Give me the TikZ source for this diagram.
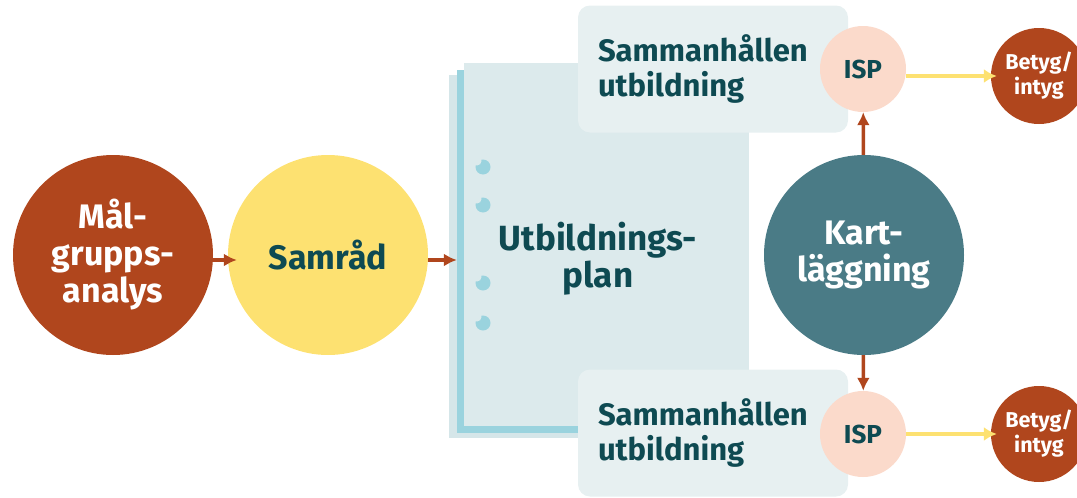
\documentclass[tikz,border=0pt]{standalone}
\usepackage{fontspec}
\setmainfont{Fira Sans}
\usepackage{tikz}
\usetikzlibrary{arrows.meta}

\definecolor{rust}{HTML}{B0461D}
\definecolor{sun}{HTML}{FDE171}
\definecolor{ink}{HTML}{0E4A52}
\definecolor{sea}{HTML}{4A7B86}
\definecolor{peach}{HTML}{FBDACB}
\definecolor{boxfill}{HTML}{E7F0F1}
\definecolor{sheetfill}{HTML}{DCEAEC}
\definecolor{sheetback}{HTML}{D5E6E9}
\definecolor{sheetblue}{HTML}{9AD3DE}

\begin{document}
\begin{tikzpicture}[x=1pt,y=-1pt]
\tikzset{step circle/.style = {shape=circle,minimum size=#1,inner sep=0pt,align=center}}
\tikzset{big/.style = {step circle=200pt,font=\bfseries\fontsize{34}{37}\selectfont}}
\tikzset{small/.style = {step circle=86pt,fill=peach,text=ink,font=\bfseries\fontsize{26}{30}\selectfont}}
\tikzset{result/.style = {step circle=96pt,fill=rust,text=white,font=\bfseries\fontsize{21.5}{25}\selectfont}}
\tikzset{sheet/.style = {shape=rectangle,minimum width=285pt,minimum height=363pt}}
\tikzset{part/.style = {shape=rectangle,rounded corners=12pt,fill=boxfill,text=ink,minimum width=270pt,minimum height=127pt,text width=230pt,inner xsep=20pt,align=left,font=\bfseries\fontsize{31}{35}\selectfont}}
\tikzset{edge/.style = {->,> = {Latex[length=13pt,width=13pt]},line width=3.5pt,draw=rust}}
\tikzset{yedge/.style = {->,> = {Latex[length=13pt,width=14pt]},line width=4.5pt,draw=sun}}
\useasboundingbox (0,0) rectangle (1077,498);
% sheets
\node[sheet,fill=sheetback] (back) at (591.5,256.5) {};
\node[sheet,fill=sheetblue] (mid) at (599.5,251) {};
\node[sheet,fill=sheetfill] (sheet) at (606.5,244.5) {};
\foreach \y in {167,205,283,323} {
  \fill[sheetblue] (483,\y) circle (7.5pt);
  \fill[sheetfill] (477,\y-6) circle (4.5pt);
}
\node[text=ink,align=center,font=\bfseries\fontsize{35}{37}\selectfont] (plan) at (598,259) {Utbildnings-\\plan};
% boxes
\node[part] (partA) at (713,69) {Sammanhållen\\utbildning};
\node[part] (partB) at (713,433) {Sammanhållen\\utbildning};
% vertices
\node[big,fill=rust,text=white] (mal) at (113,255) {Mål-\\grupps-\\analys};
\node[big,fill=sun,text=ink] (sam) at (328,255) {Samråd};
\node[big,fill=sea,text=white] (kart) at (864,255) {Kart-\\läggning};
\node[small] (ispA) at (863,69) {ISP};
\node[small] (ispB) at (863,434) {ISP};
\node[result] (betA) at (1039,76) {Betyg/\\intyg};
\node[result] (betB) at (1039,434) {Betyg/\\intyg};
%edges
\draw[edge,shorten >=-9pt] ([yshift=-5pt]mal.east) to ([yshift=-5pt]sam.west);
\draw[edge] ([yshift=-5pt]sam.east) to ([yshift=-5pt]sam.east -| mid.west);
\draw[edge] (kart) to (ispA);
\draw[edge] (kart) to (ispB);
\draw[yedge,shorten >=-6pt] (ispA.east |- betA) to (betA.west);
\draw[yedge,shorten >=-6pt] (ispB) to (betB);
\end{tikzpicture}
\end{document}
